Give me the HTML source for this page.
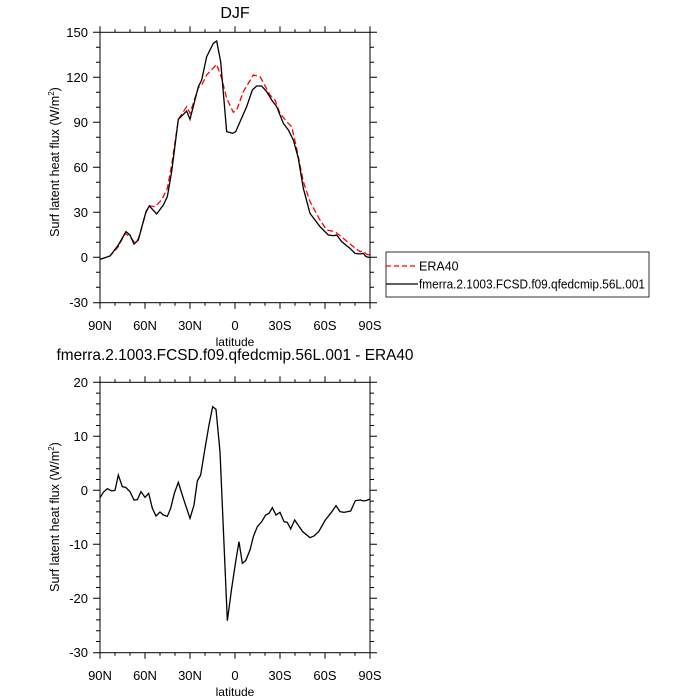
<!DOCTYPE html>
<html><head><meta charset="utf-8"><style>
html,body{margin:0;padding:0;background:#fff;}
svg{display:block;font-family:"Liberation Sans",sans-serif;}
</style></head><body>
<svg width="700" height="700" viewBox="0 0 700 700" xmlns="http://www.w3.org/2000/svg">
<rect width="700" height="700" fill="#fff"/>
<text x="235" y="18" font-size="16" text-anchor="middle">DJF</text>
<g transform="translate(90,25) scale(0.3333333)" fill="none">
<polyline stroke="#ff0000" stroke-width="1.3" vector-effect="non-scaling-stroke" stroke-dasharray="6,3" points="30,703 60,693 85,665 105,625 120,635 132,650 145,642 168,562 178,542 195,545 215,525 232,490 245,420 265,283 290,245 300,265 325,188 335,180 350,150 380,118 395,160 410,220 430,262 440,255 460,200 490,150 510,155 540,210 555,225 570,265 590,290 605,305 620,370 640,470 660,530 690,585 710,615 735,620 760,640 790,665 810,680 820,678 830,688 840,690"/>
<polyline stroke="#000" stroke-width="1.3" vector-effect="non-scaling-stroke" points="30,703 60,693 85,660 108,620 120,630 132,657 145,645 168,560 178,543 200,567 220,540 232,515 245,440 265,283 290,258 300,283 325,185 335,165 350,95 370,55 380,48 392,110 410,320 428,325 437,320 470,245 487,195 500,183 515,183 530,200 545,225 560,245 580,295 595,315 610,345 625,400 640,490 660,565 690,605 715,630 730,632 740,630 755,650 780,670 795,685 810,687 820,685 828,695 840,698"/>
</g>
<g transform="translate(90,375) scale(0.3333333)" fill="none">
<polyline stroke="#000" stroke-width="1.3" vector-effect="non-scaling-stroke" points="30,368 40,352 52,341 65,348 75,346 85,300 97,335 107,337 120,350 132,375 142,374 153,350 165,367 176,355 187,400 198,423 210,411 220,420 232,424 242,400 253,355 265,322 280,370 300,430 312,390 322,318 332,300 345,220 357,150 368,95 378,103 390,230 412,737 425,640 437,560 447,500 457,565 467,557 480,525 490,485 502,455 515,440 527,420 537,415 547,398 558,420 570,412 582,440 592,442 602,462 614,435 638,470 660,488 672,483 686,470 706,435 722,415 738,392 750,410 762,412 782,408 796,377 812,375 820,378 830,376 840,372"/>
</g>
<g id="axes" stroke="#000" fill="none" stroke-width="1">
<rect x="100" y="32.3" width="270" height="270.4"/>
<rect x="100" y="382.3" width="270" height="270.4"/>
<path id="xt" d="M100,302.7v6M145,302.7v6M190,302.7v6M235,302.7v6M280,302.7v6M325,302.7v6M370,302.7v6
M115,302.7v3M130,302.7v3M160,302.7v3M175,302.7v3M205,302.7v3M220,302.7v3M250,302.7v3M265,302.7v3M295,302.7v3M310,302.7v3M340,302.7v3M355,302.7v3
M100,32.3v-6M145,32.3v-6M190,32.3v-6M235,32.3v-6M280,32.3v-6M325,32.3v-6M370,32.3v-6
M115,32.3v-3M130,32.3v-3M160,32.3v-3M175,32.3v-3M205,32.3v-3M220,32.3v-3M250,32.3v-3M265,32.3v-3M295,32.3v-3M310,32.3v-3M340,32.3v-3M355,32.3v-3"/>
<use href="#xt" transform="translate(0,350)"/>
<path d="M100,32.3h-7M100,77.3h-7M100,122.3h-7M100,167.3h-7M100,212.3h-7M100,257.3h-7M100,302.7h-7
M100,47.3h-4M100,62.3h-4M100,92.3h-4M100,107.3h-4M100,137.3h-4M100,152.3h-4M100,182.3h-4M100,197.3h-4M100,227.3h-4M100,242.3h-4M100,272.3h-4M100,287.3h-4
M370,32.3h7M370,77.3h7M370,122.3h7M370,167.3h7M370,212.3h7M370,257.3h7M370,302.7h7
M370,47.3h4M370,62.3h4M370,92.3h4M370,107.3h4M370,137.3h4M370,152.3h4M370,182.3h4M370,197.3h4M370,227.3h4M370,242.3h4M370,272.3h4M370,287.3h4"/>
<path d="M100,382.3h-7M100,436.3h-7M100,490.3h-7M100,544.3h-7M100,598.3h-7M100,652.7h-7
M100,393.1h-4M100,403.9h-4M100,414.7h-4M100,425.5h-4M100,447.1h-4M100,457.9h-4M100,468.7h-4M100,479.5h-4M100,501.1h-4M100,511.9h-4M100,522.7h-4M100,533.5h-4M100,555.1h-4M100,565.9h-4M100,576.7h-4M100,587.5h-4M100,609.1h-4M100,619.9h-4M100,630.7h-4M100,641.5h-4
M370,382.3h7M370,436.3h7M370,490.3h7M370,544.3h7M370,598.3h7M370,652.7h7
M370,393.1h4M370,403.9h4M370,414.7h4M370,425.5h4M370,447.1h4M370,457.9h4M370,468.7h4M370,479.5h4M370,501.1h4M370,511.9h4M370,522.7h4M370,533.5h4M370,555.1h4M370,565.9h4M370,576.7h4M370,587.5h4M370,609.1h4M370,619.9h4M370,630.7h4M370,641.5h4"/>
</g>
<g font-size="13" text-anchor="end">
<text x="88" y="37">150</text><text x="88" y="82">120</text><text x="88" y="127">90</text><text x="88" y="172">60</text><text x="88" y="217">30</text><text x="88" y="262">0</text><text x="88" y="307">-30</text>
<text x="88" y="387">20</text><text x="88" y="441">10</text><text x="88" y="495">0</text><text x="88" y="549">-10</text><text x="88" y="603">-20</text><text x="88" y="657">-30</text>
</g>
<g font-size="13" text-anchor="middle">
<text x="100" y="330">90N</text><text x="145" y="330">60N</text><text x="190" y="330">30N</text><text x="235" y="330">0</text><text x="280" y="330">30S</text><text x="325" y="330">60S</text><text x="370" y="330">90S</text>
<text x="100" y="680">90N</text><text x="145" y="680">60N</text><text x="190" y="680">30N</text><text x="235" y="680">0</text><text x="280" y="680">30S</text><text x="325" y="680">60S</text><text x="370" y="680">90S</text>
<text x="235" y="346" font-size="12">latitude</text>
<text x="235" y="696" font-size="12">latitude</text>
</g>
<text x="235" y="360" font-size="16" text-anchor="middle" textLength="357" lengthAdjust="spacingAndGlyphs">fmerra.2.1003.FCSD.f09.qfedcmip.56L.001 - ERA40</text>
<text transform="translate(59,162) rotate(-90)" font-size="12.5" text-anchor="middle">Surf latent heat flux (W/m<tspan font-size="8" dy="-5">2</tspan><tspan dy="5">)</tspan></text>
<text transform="translate(59,517) rotate(-90)" font-size="12.5" text-anchor="middle">Surf latent heat flux (W/m<tspan font-size="8" dy="-5">2</tspan><tspan dy="5">)</tspan></text>
<rect x="386" y="252" width="263" height="45" fill="none" stroke="#000" stroke-width="0.8"/>
<line x1="386" y1="266" x2="418" y2="266" stroke="#ff0000" stroke-width="1.3" stroke-dasharray="5,3"/>
<line x1="386" y1="284" x2="418" y2="284" stroke="#000" stroke-width="1.3"/>
<text x="419" y="270.5" font-size="12.5">ERA40</text>
<text x="419" y="288.5" font-size="12.5" textLength="226" lengthAdjust="spacingAndGlyphs">fmerra.2.1003.FCSD.f09.qfedcmip.56L.001</text>
</svg>
</body></html>
